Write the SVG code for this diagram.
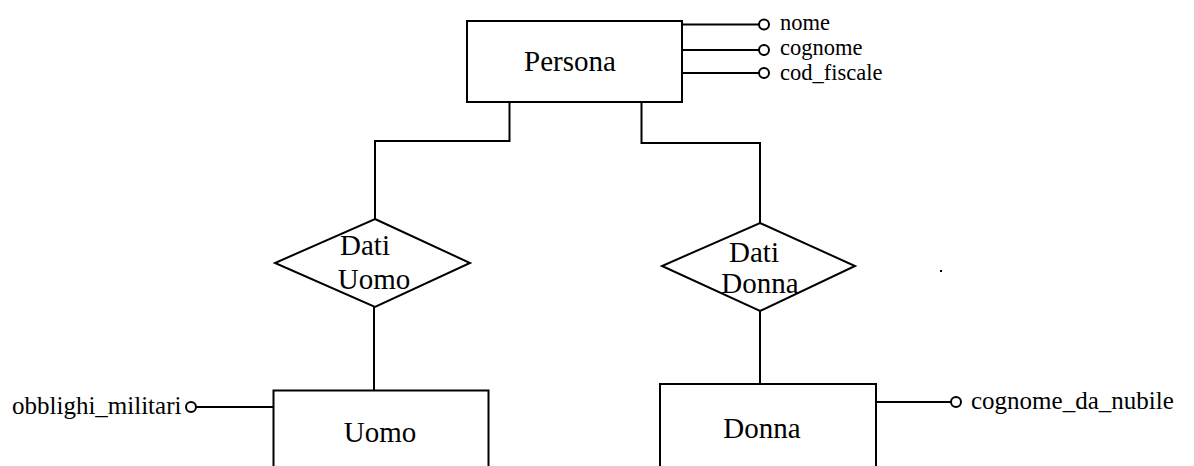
<svg xmlns="http://www.w3.org/2000/svg" width="1194" height="466" viewBox="0 0 1194 466">
<style>
.shape{fill:#fff;stroke:#000;stroke-width:2}
.line{fill:none;stroke:#000;stroke-width:2}
.dot{fill:#fff;stroke:#000;stroke-width:2}
.lbl{font-family:"Liberation Serif","Times New Roman",serif;font-size:29px;fill:#000;text-anchor:middle}
.attr{font-family:"Liberation Serif","Times New Roman",serif;font-size:25px;fill:#000}
.pattr{font-family:"Liberation Serif","Times New Roman",serif;font-size:22.5px;fill:#000}
</style>
<rect width="1194" height="466" fill="#fff"/>
<g id="connectors">
<polyline class="line" points="509.5,102 509.5,141 375,141 375,219"/>
<polyline class="line" points="641.5,102 641.5,143 760,143 760,223"/>
<line class="line" x1="374" y1="307" x2="374" y2="390"/>
<line class="line" x1="760" y1="311" x2="760" y2="384"/>
</g>
<g id="persona">
<rect class="shape" x="467" y="21" width="215" height="81"/>
<text class="lbl" x="570" y="71">Persona</text>
<line class="line" x1="682" y1="24.5" x2="759" y2="24.5"/>
<circle class="dot" cx="764" cy="24.5" r="5"/>
<text class="pattr" x="780" y="30">nome</text>
<line class="line" x1="682" y1="50" x2="759" y2="50"/>
<circle class="dot" cx="764" cy="50" r="5"/>
<text class="pattr" x="780" y="55">cognome</text>
<line class="line" x1="682" y1="73" x2="759" y2="73"/>
<circle class="dot" cx="764" cy="73" r="5"/>
<text class="pattr" x="780" y="80">cod_fiscale</text>
</g>
<g id="dati-uomo">
<polygon class="shape" points="375,219 470,263 375,307 275,263"/>
<text class="lbl" x="365" y="255">Dati</text>
<text class="lbl" x="374" y="289">Uomo</text>
</g>
<g id="dati-donna">
<polygon class="shape" points="760,223 855,266 760,311 662,266"/>
<text class="lbl" x="754" y="262">Dati</text>
<text class="lbl" x="760" y="293">Donna</text>
</g>
<g id="uomo">
<rect class="shape" x="273.5" y="390.5" width="215" height="90"/>
<text class="lbl" x="380" y="442">Uomo</text>
<line class="line" x1="196" y1="407" x2="273" y2="407"/>
<circle class="dot" cx="191" cy="407" r="5"/>
<text class="attr" x="12" y="414">obblighi_militari</text>
</g>
<g id="donna">
<rect class="shape" x="660" y="384" width="216" height="96"/>
<text class="lbl" x="762" y="438">Donna</text>
<line class="line" x1="876" y1="402" x2="951" y2="402"/>
<circle class="dot" cx="956" cy="402" r="5"/>
<text class="attr" x="971" y="409">cognome_da_nubile</text>
</g>
<rect x="940" y="270" width="2" height="2" fill="#000"/>
</svg>
